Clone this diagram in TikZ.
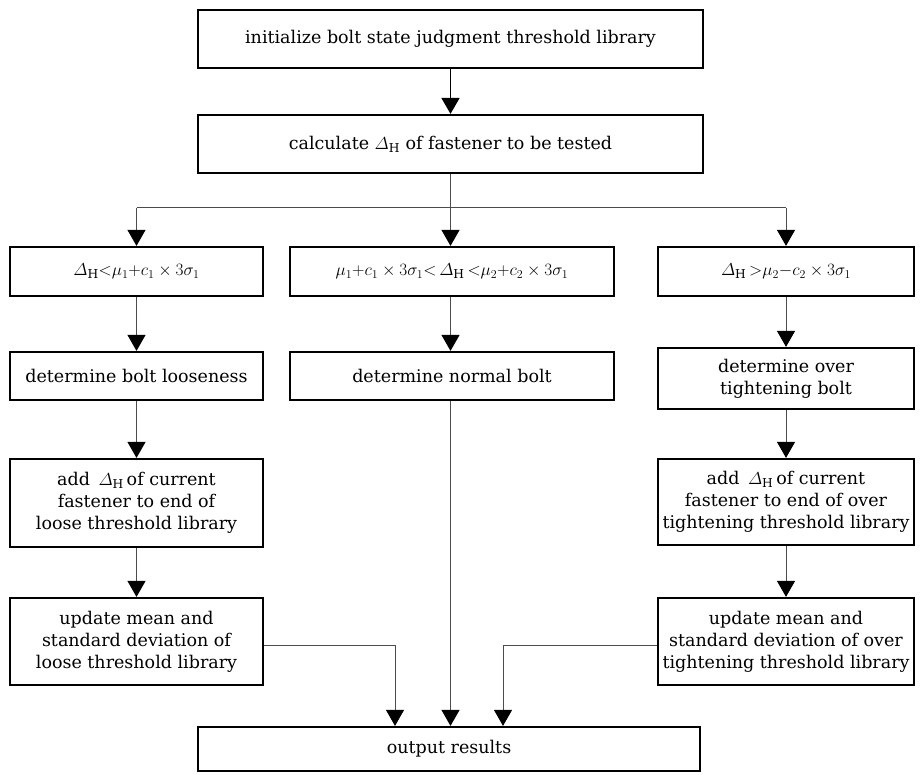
\documentclass[tikz,border=0pt]{standalone}
\usepackage{amsmath}
\usepackage{fontspec}
\setmainfont{DejaVu Serif}
\usetikzlibrary{arrows.meta}
\newcommand{\dH}{$\varDelta_{\mathrm{H}}$}
\begin{document}
\begin{tikzpicture}[x=1pt, y=-1pt,
    box/.style={draw, line width=2.2pt, inner sep=1pt, align=center,
        font=\fontsize{17.5}{22}\selectfont},
    flow/.style={draw=gray!60!black, line width=1pt, -{Triangle[length=16pt, width=18pt, color=black]}},
    link/.style={draw=gray!60!black, line width=1pt}]
    \useasboundingbox (0, 0) rectangle (920, 775);
    \node[box, minimum width=505pt, minimum height=58pt] (init) at (450.5, 39) {initialize bolt state judgment threshold library};
    \node[box, minimum width=505pt, minimum height=58pt] (calc) at (450.5, 144) {calculate \dH{} of fastener to be tested};
    \node[box, minimum width=253pt, minimum height=49pt] (condl) at (136.5, 271.5) {$\varDelta_{\mathrm{H}}{<}\mu_1{+}c_1\times 3\sigma_1$};
    \node[box, minimum width=324pt, minimum height=49pt] (condm) at (452, 271.5) {$\mu_1{+}c_1\times 3\sigma_1{<}\,\varDelta_{\mathrm{H}}\,{<}\mu_2{+}c_2\times 3\sigma_1$};
    \node[box, minimum width=256pt, minimum height=49pt] (condr) at (786, 271.5) {$\varDelta_{\mathrm{H}}\,{>}\mu_2{-}c_2\times 3\sigma_1$};
    \node[box, minimum width=253pt, minimum height=48pt] (loose) at (136.5, 376) {determine bolt looseness};
    \node[box, minimum width=324pt, minimum height=48pt] (normal) at (452, 376) {determine normal bolt};
    \node[box, minimum width=256pt, minimum height=61pt] (tight) at (786, 378.5) {determine over\\tightening bolt};
    \node[box, minimum width=253pt, minimum height=88pt] (addl) at (136.5, 503) {add \,\dH\,of current\\fastener to end of\\loose threshold library};
    \node[box, minimum width=256pt, minimum height=86pt] (addr) at (786, 502) {add \,\dH\,of current\\fastener to end of over\\tightening threshold library};
    \node[box, minimum width=253pt, minimum height=87pt] (updl) at (136.5, 641.5) {update mean and\\standard deviation of\\loose threshold library};
    \node[box, minimum width=256pt, minimum height=87pt] (updr) at (786, 641.5) {update mean and\\standard deviation of over\\tightening threshold library};
    \node[box, minimum width=502pt, minimum height=44pt] (out) at (449, 749) {output results};
    \coordinate (split) at (450.5, 208);
    \coordinate (inl) at (395, 645);
    \coordinate (inr) at (503, 645);
    \draw[line width=1.8pt, -{Triangle[length=16pt, width=18pt]}] (init) -- (calc);
    \draw[flow] (calc.south) -- (calc.south |- condm.north);
    \draw[link] (condl.north |- split) -- (condr.north |- split);
    \draw[flow] (condl.north |- split) -- (condl);
    \draw[flow] (condr.north |- split) -- (condr);
    \draw[flow] (condl) -- (loose);
    \draw[flow] (calc.south |- condm.south) -- (calc.south |- normal.north);
    \draw[flow] (condr) -- (tight);
    \draw[flow] (loose) -- (addl);
    \draw[flow] (tight) -- (addr);
    \draw[flow] (addl) -- (updl);
    \draw[flow] (addr) -- (updr);
    \draw[flow] (calc.south |- normal.south) -- (calc.south |- out.north);
    \draw[flow] (updl.east |- inl) -- (inl) -- (inl |- out.north);
    \draw[flow] (updr.west |- inr) -- (inr) -- (inr |- out.north);
\end{tikzpicture}
\end{document}
